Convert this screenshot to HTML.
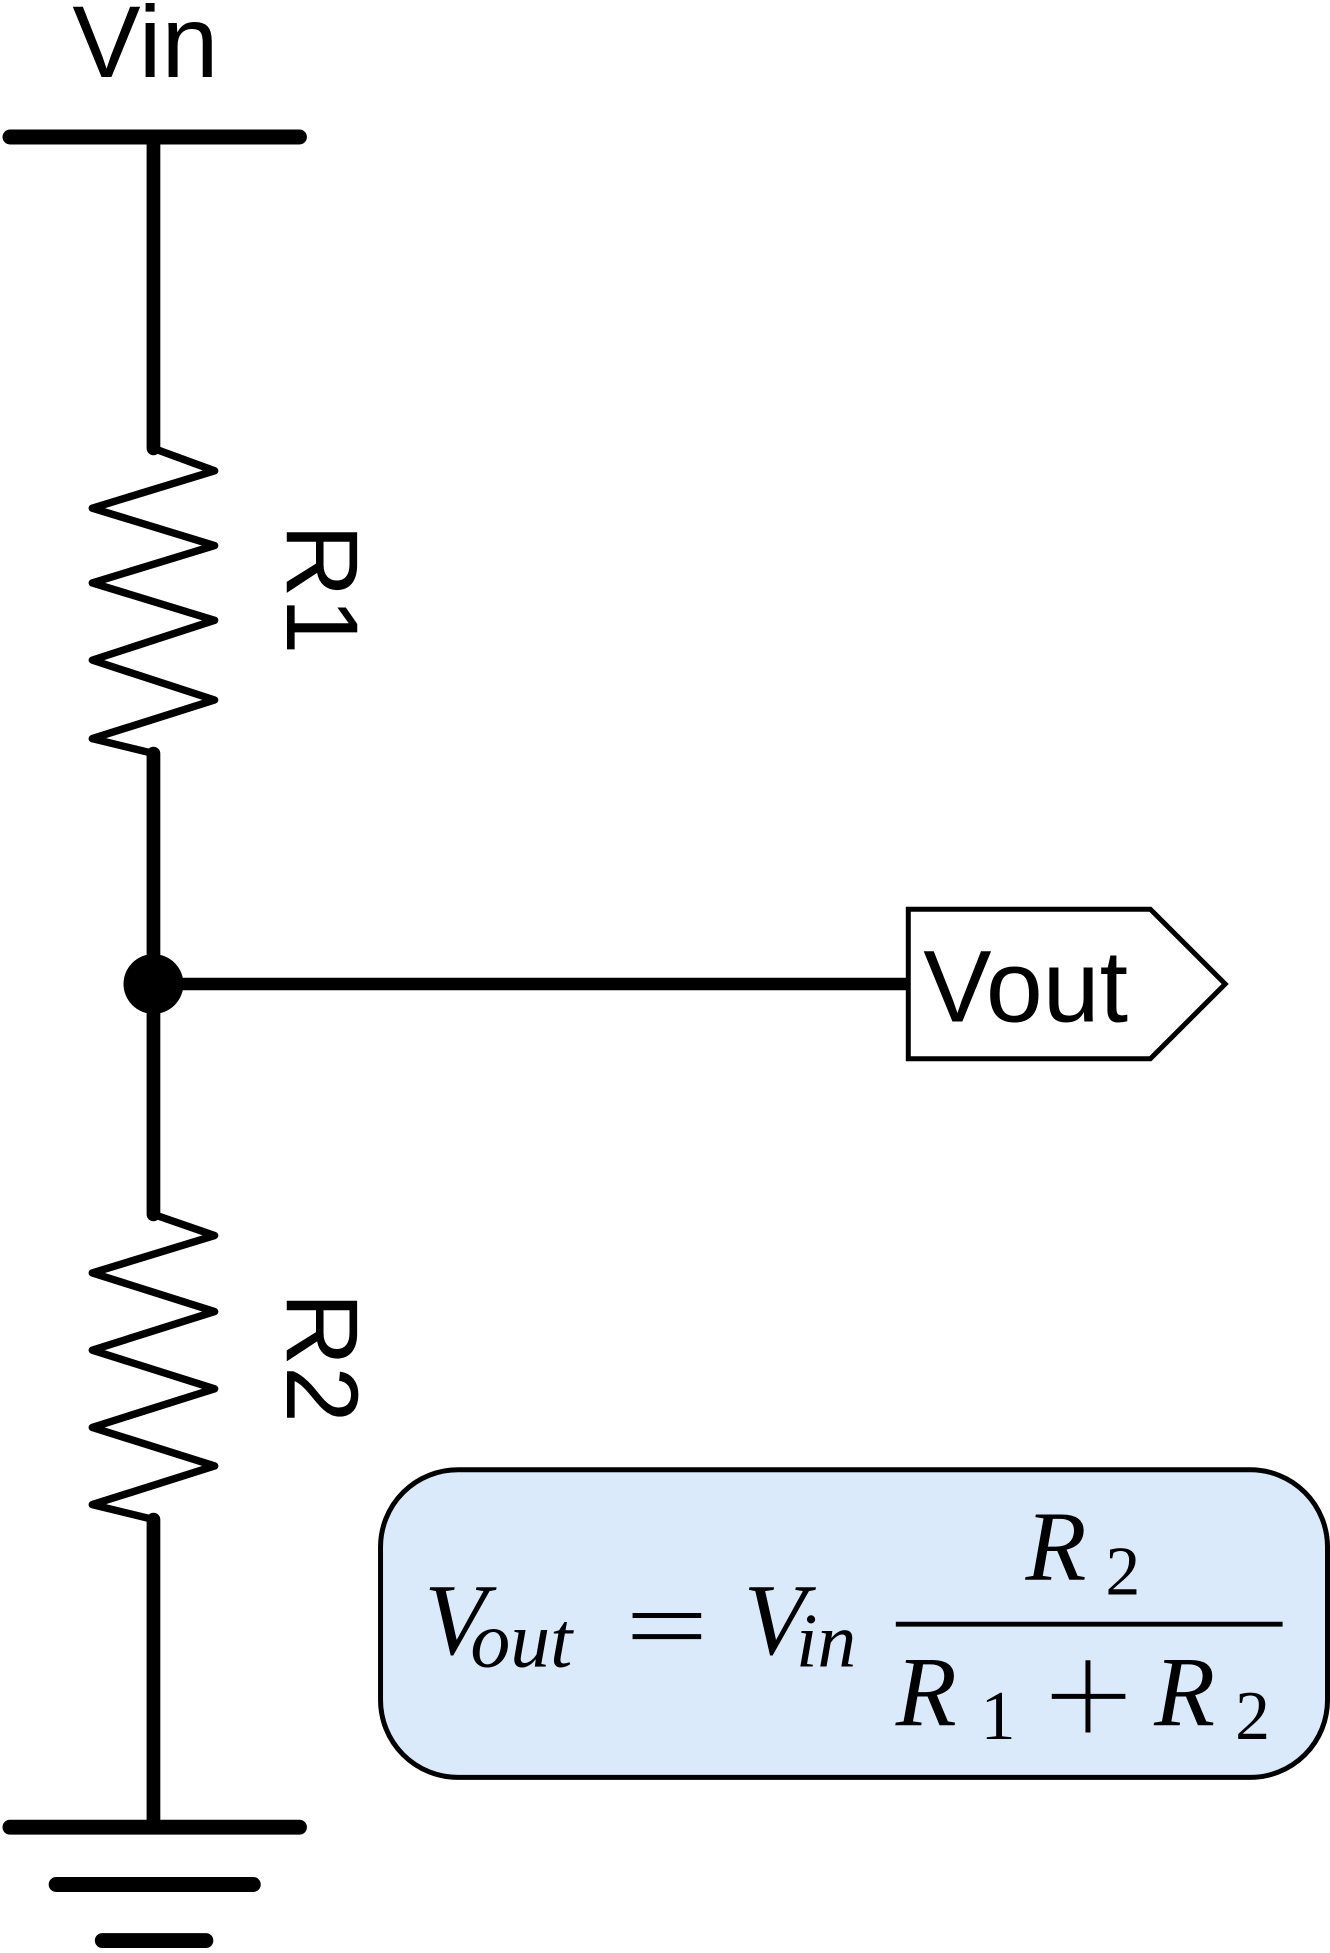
<!DOCTYPE html>
<html><head><meta charset="utf-8"><style>html,body{margin:0;padding:0;background:#fff}svg{display:block}</style></head>
<body>
<svg width="1330" height="1953" viewBox="0 0 1066 1568" preserveAspectRatio="none" xmlns="http://www.w3.org/2000/svg">
<g stroke="#000" stroke-linecap="round" stroke-linejoin="round" fill="none">
<line x1="8" y1="110" x2="240" y2="110" stroke-width="12"/>
<line x1="123" y1="110" x2="123" y2="360" stroke-width="11"/>
<polyline stroke-width="6" points="123,360 172,378 74,408 172,438 74,468 172,498 74,530 172,562 74,593 123,605"/>
<line x1="123" y1="605" x2="123" y2="975" stroke-width="11"/>
<polyline stroke-width="6" points="123,975 172,992 74,1022 172,1053 74,1084 172,1115 74,1146 172,1177 74,1208 123,1220"/>
<line x1="123" y1="1220" x2="123" y2="1467" stroke-width="11"/>
<line x1="123" y1="790" x2="728" y2="790" stroke-width="10"/>
<line x1="8" y1="1467" x2="240" y2="1467" stroke-width="12"/>
<line x1="45" y1="1513" x2="203" y2="1513" stroke-width="12"/>
<line x1="82" y1="1558" x2="165" y2="1558" stroke-width="12"/>
</g>
<circle cx="123" cy="790" r="24" fill="#000"/>
<polygon points="728,730 922,730 982,790 922,850 728,850" fill="#fff" stroke="#000" stroke-width="4"/>
<g font-family="Liberation Sans, sans-serif" font-size="82" fill="#000">
<text x="58" y="62">Vin</text>
<text x="740" y="820">Vout</text>
<text transform="translate(230,473) rotate(90)" text-anchor="middle">R1</text>
<text transform="translate(230,1090) rotate(90)" text-anchor="middle">R2</text>
</g>
<rect x="305" y="1180" width="759" height="247" rx="62" fill="#dbeafb" stroke="#000" stroke-width="4"/>
<g font-family="Liberation Serif, serif" fill="#000">
<text x="340" y="1328" font-size="82" font-style="italic">V</text>
<text x="377" y="1338" font-size="64" font-style="italic">out</text>
<line x1="507" y1="1297" x2="562" y2="1297" stroke="#000" stroke-width="4"/>
<line x1="507" y1="1314" x2="562" y2="1314" stroke="#000" stroke-width="4"/>
<text x="596" y="1328" font-size="82" font-style="italic">V</text>
<text x="638" y="1338" font-size="62" font-style="italic">in</text>
<line x1="718" y1="1304" x2="1028" y2="1304" stroke="#000" stroke-width="4"/>
<text x="822" y="1268" font-size="80" font-style="italic">R</text>
<text x="886" y="1280" font-size="56">2</text>
<text x="718" y="1385" font-size="80" font-style="italic">R</text>
<text x="786" y="1396" font-size="56">1</text>
<line x1="843" y1="1362" x2="902" y2="1362" stroke="#000" stroke-width="4"/>
<line x1="872" y1="1333" x2="872" y2="1391" stroke="#000" stroke-width="4"/>
<text x="925" y="1385" font-size="80" font-style="italic">R</text>
<text x="990" y="1396" font-size="56">2</text>
</g>
</svg>
</body></html>
